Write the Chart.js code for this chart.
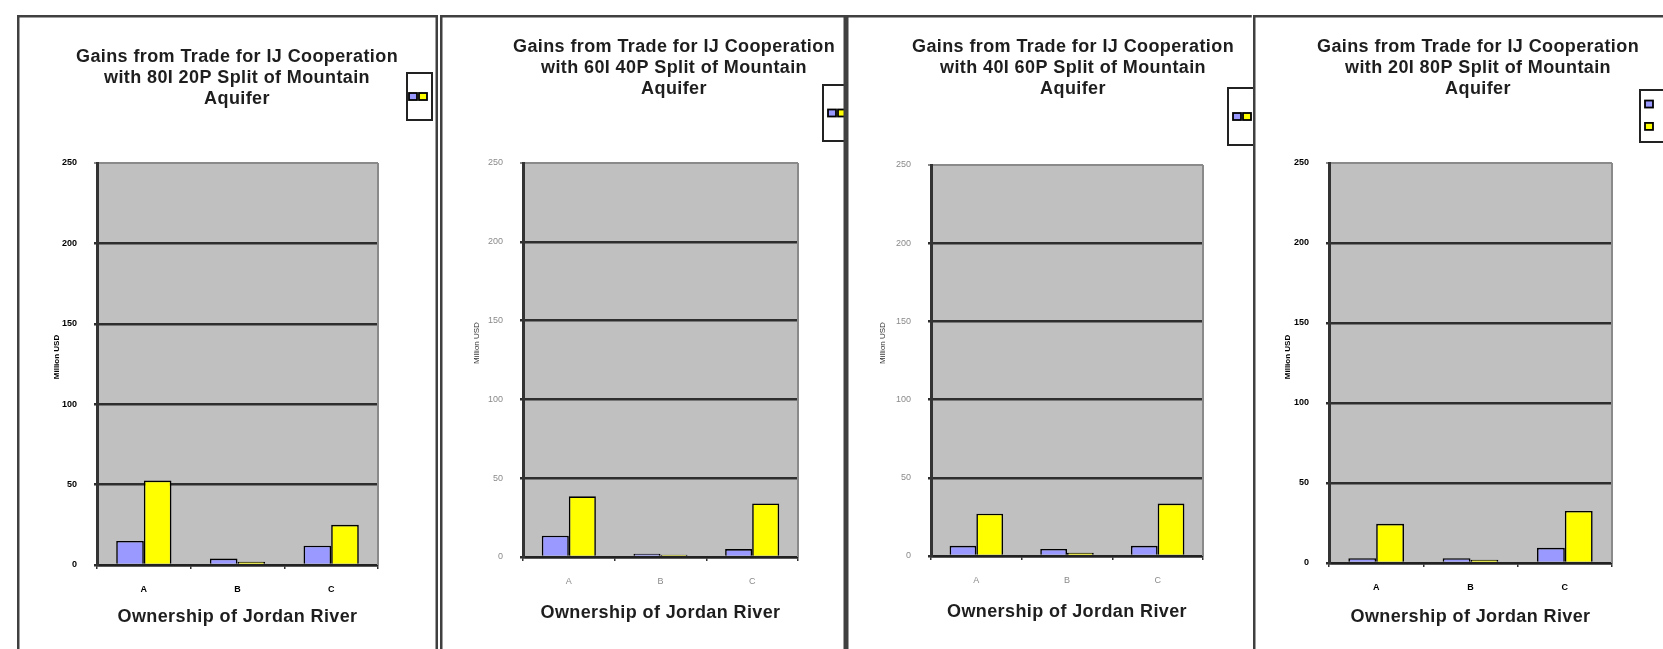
<!DOCTYPE html>
<html>
<head>
<meta charset="utf-8">
<script src="https://cdn.jsdelivr.net/npm/chart.js@4/dist/chart.umd.min.js"></script>
<style>
  html, body { margin: 0; padding: 0; background: #fff; width: 1663px; height: 649px; overflow: hidden; }
  .panel { position: absolute; top: 15px; height: 634px; overflow: hidden; background: #fff; }
  canvas { display: block; }
</style>
</head>
<body>
<div class="panel" style="left:17px;width:421px"><canvas id="c1" width="421" height="634"></canvas></div>
<div class="panel" style="left:440px;width:406px"><canvas id="c2" width="406" height="634"></canvas></div>
<div class="panel" style="left:846px;width:407px"><canvas id="c3" width="407" height="634"></canvas></div>
<div class="panel" style="left:1253px;width:420px"><canvas id="c4" width="420" height="634"></canvas></div>
<script>
// Ownership scenarios for the Jordan River (x categories)
const categories = ['A', 'B', 'C'];
// Series shown in each chart
const seriesNames = ['Israel', 'Jordan'];
// Split of the Mountain Aquifer, one chart per split
const splits = ['80I 20P', '60I 40P', '40I 60P', '20I 80P'];
// Y axis tick values (Million USD)
const yTicks = [0, 50, 100, 150, 200, 250];

// Gains from trade, Million USD
const israel8020 = [15, 4, 12];
const jordan8020 = [52.5, 2, 25];
const israel6040 = [13.5, 2, 5];
const jordan6040 = [38.5, 1.5, 34];
const israel4060 = [6.5, 4.5, 6.5];
const jordan4060 = [27, 2, 33.5];
const israel2080 = [3, 3, 9.5];
const jordan2080 = [24.5, 2, 32.5];

const seriesBySplit = [
  [israel8020, jordan8020],
  [israel6040, jordan6040],
  [israel4060, jordan4060],
  [israel2080, jordan2080]
];

const seriesColors = ['#9999FF', '#FFFF00'];
const FONT = '"Liberation Sans", Arial, sans-serif';

// Per-chart layout: plot area box, text anchors, legend box
const layouts = [
  { id: 'c1', area: { l: 80, r: 361, t: 148, b: 550 }, titleX: 220, titleY: 42, xTitleY: 602,
    yTitle: { x: 40, y: 342 }, legend: { x: 390, y: 58, w: 25, h: 47, stack: false, sx: 2 }, dark: true, frameRight: true },
  { id: 'c2', area: { l: 83, r: 358, t: 148, b: 542 }, titleX: 234, titleY: 32, xTitleY: 598,
    yTitle: { x: 37, y: 328 }, legend: { x: 383, y: 70, w: 34, h: 56, stack: false, sx: 5 }, dark: false, frameRight: true },
  { id: 'c3', area: { l: 85, r: 357, t: 150, b: 541 }, titleX: 227, titleY: 32, xTitleY: 597,
    yTitle: { x: 37, y: 328 }, legend: { x: 382, y: 73, w: 34, h: 57, stack: false, sx: 5 }, dark: false, frameRight: false },
  { id: 'c4', area: { l: 76, r: 359, t: 148, b: 548 }, titleX: 225, titleY: 32, xTitleY: 602,
    yTitle: { x: 35, y: 342 }, legend: { x: 387, y: 75, w: 34, h: 52, stack: true, sx: 5 }, dark: true, frameRight: false }
];

const Y_AXIS_W = 40;
const X_AXIS_H = 30;

// Grey plot background and light right edge of the plot area
const plotFrame = {
  id: 'plotFrame',
  beforeDraw(chart) {
    const { ctx, chartArea: a } = chart;
    ctx.save();
    ctx.fillStyle = '#C0C0C0';
    ctx.fillRect(a.left, a.top, a.right - a.left, a.bottom - a.top);
    ctx.restore();
  },
  beforeDatasetsDraw(chart) {
    const { ctx, chartArea: a } = chart;
    ctx.save();
    ctx.strokeStyle = '#8a8a8a';
    ctx.lineWidth = 2;
    ctx.beginPath();
    ctx.moveTo(a.right, a.top);
    ctx.lineTo(a.right, a.bottom);
    ctx.stroke();
    ctx.restore();
  }
};

// Titles, legend box and the outer frame of each chart
const panelDecor = {
  id: 'panelDecor',
  afterDraw(chart, args, opts) {
    const { ctx, width } = chart;
    const L = opts.layout;
    ctx.save();

    // chart title
    ctx.fillStyle = '#1e1e1e';
    ctx.font = 'bold 18px ' + FONT;
    if ('letterSpacing' in ctx) ctx.letterSpacing = '0.4px';
    ctx.textAlign = 'center';
    ctx.textBaseline = 'middle';
    opts.title.forEach((line, i) => ctx.fillText(line, L.titleX, L.titleY + i * 21));

    // x axis title
    const a = chart.chartArea;
    ctx.fillText('Ownership of Jordan River', (a.left + a.right) / 2, L.xTitleY);
    if ('letterSpacing' in ctx) ctx.letterSpacing = '0px';

    // y axis title
    ctx.save();
    ctx.translate(L.yTitle.x, L.yTitle.y);
    ctx.rotate(-Math.PI / 2);
    ctx.fillStyle = L.dark ? '#000' : '#333';
    ctx.font = (L.dark ? 'bold 8px ' : '8px ') + FONT;
    ctx.fillText('Million USD', 0, 0);
    ctx.restore();

    // legend box with series swatches
    const g = L.legend;
    ctx.fillStyle = '#fff';
    ctx.fillRect(g.x, g.y, g.w, g.h);
    ctx.strokeStyle = '#222';
    ctx.lineWidth = 2;
    ctx.strokeRect(g.x, g.y, g.w, g.h);
    chart.data.datasets.forEach((ds, i) => {
      let sx, sy;
      if (g.stack) { sx = g.x + g.sx; sy = g.y + g.h * (i === 0 ? 0.27 : 0.7) - 3.5; }
      else { sx = g.x + g.sx + i * 10; sy = g.y + g.h / 2 - 3.5; }
      ctx.fillStyle = ds.backgroundColor;
      ctx.fillRect(sx, sy, 8, 7);
      ctx.strokeStyle = '#000';
      ctx.lineWidth = 1.8;
      ctx.strokeRect(sx, sy, 8, 7);
    });

    // outer frame
    ctx.strokeStyle = '#404040';
    ctx.lineWidth = 2.5;
    ctx.beginPath();
    ctx.moveTo(1.25, chart.height);
    ctx.lineTo(1.25, 1.25);
    ctx.lineTo(width - 1.25, 1.25);
    if (L.frameRight) ctx.lineTo(width - 1.25, chart.height);
    ctx.stroke();
    ctx.restore();
  }
};

layouts.forEach((L, k) => {
  const canvas = document.getElementById(L.id);
  const W = canvas.width, H = canvas.height;
  const tickColor = L.dark ? '#000' : '#8a8a8a';
  const tickFont = L.dark ? { family: FONT, size: 9, weight: 'bold' } : { family: FONT, size: 9 };

  new Chart(canvas, {
    type: 'bar',
    data: {
      labels: categories,
      datasets: seriesNames.map((name, i) => ({
        label: name,
        data: seriesBySplit[k][i],
        backgroundColor: seriesColors[i],
        borderColor: '#000',
        borderWidth: 1.6,
        categoryPercentage: 0.59,
        barPercentage: 1.0
      }))
    },
    options: {
      responsive: false,
      animation: false,
      devicePixelRatio: 1,
      layout: {
        padding: {
          left: L.area.l - Y_AXIS_W,
          right: W - L.area.r,
          top: L.area.t,
          bottom: H - L.area.b - X_AXIS_H
        }
      },
      plugins: {
        legend: { display: false },
        title: { display: false },
        tooltip: { enabled: false },
        panelDecor: {
          layout: L,
          title: ['Gains from Trade for IJ Cooperation', 'with ' + splits[k] + ' Split of Mountain', 'Aquifer']
        }
      },
      scales: {
        x: {
          afterFit(s) { s.height = X_AXIS_H; },
          grid: { offset: true, drawOnChartArea: false, drawTicks: true, tickLength: 4, color: '#333', lineWidth: 1.5 },
          border: { display: true, color: '#222', width: 2.5 },
          ticks: { color: tickColor, font: tickFont, padding: 15, maxRotation: 0 }
        },
        y: {
          min: 0,
          max: 250,
          afterFit(s) { s.width = Y_AXIS_W; },
          afterBuildTicks(s) { s.ticks = yTicks.map(v => ({ value: v })); },
          grid: {
            drawTicks: true,
            tickLength: 3,
            color: c => (c.tick && c.tick.value === 250 ? '#8a8a8a' : '#2e2e2e'),
            lineWidth: c => (c.tick && c.tick.value === 250 ? 2 : 2.5)
          },
          border: { display: true, color: '#333', width: 3 },
          ticks: { color: tickColor, font: tickFont, padding: 17 }
        }
      }
    },
    plugins: [plotFrame, panelDecor]
  });
});
</script>
</body>
</html>
